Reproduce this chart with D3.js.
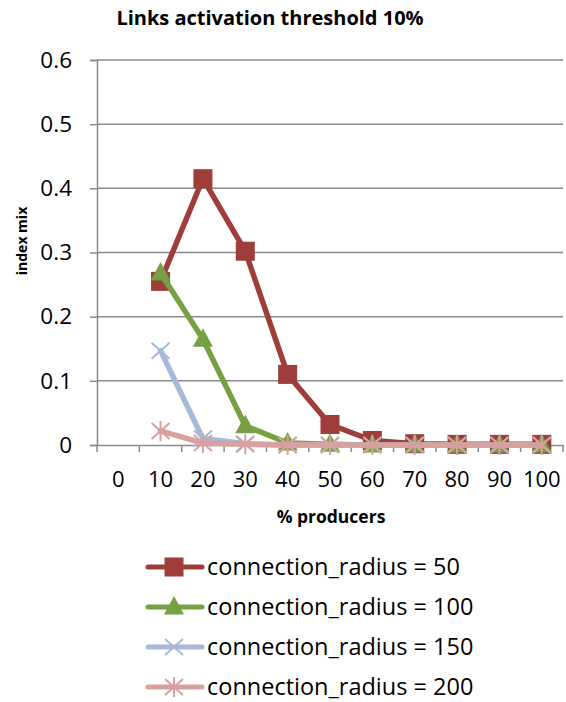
<!DOCTYPE html>
<html>
<head>
<meta charset="utf-8">
<script src="https://cdn.jsdelivr.net/npm/d3@7"></script>
<style>
  body { margin: 0; background: #fff; }
  svg { display: block; font-family: "Open Sans", "Noto Sans", sans-serif; }
</style>
</head>
<body>
<svg id="chart" width="566" height="702"></svg>
<script>
const title = "Links activation threshold 10%";
const xTitle = "% producers";
const yTitle = "index mix";
const categories = ["0", "10", "20", "30", "40", "50", "60", "70", "80", "90", "100"];
const yTicks = [0, 0.1, 0.2, 0.3, 0.4, 0.5, 0.6];
const seriesNames = ["connection_radius = 50", "connection_radius = 100", "connection_radius = 150", "connection_radius = 200"];
const r50  = [null, 0.255, 0.415, 0.302, 0.110, 0.032, 0.007, 0.002, 0.001, 0.001, 0.001];
const r100 = [null, 0.268, 0.165, 0.030, 0.003, 0.001, 0.000, 0.000, 0.000, 0.000, 0.000];
const r150 = [null, 0.147, 0.010, 0.002, 0.000, 0.000, 0.000, 0.000, 0.000, 0.000, 0.000];
const r200 = [null, 0.022, 0.003, 0.001, 0.000, 0.000, 0.000, 0.000, 0.000, 0.000, 0.000];
const seriesValues = [r50, r100, r150, r200];
const colors = ["#9F3D3A", "#77A043", "#A6B9DA", "#D8A1A0"];
const markers = ["square", "triangle", "x", "asterisk"];

const svg = d3.select("#chart");
const margin = {left: 97, right: 3, top: 60, bottom: 257};
const W = 566, H = 702;
const x = d3.scaleBand().domain(categories).range([margin.left, W - margin.right]);
const y = d3.scaleLinear().domain([0, 0.6]).range([H - margin.bottom, margin.top]);
const gridColor = "#8a8a8a";

// gridlines
svg.append("g").selectAll("line").data(yTicks.filter(d => d > 0)).join("line")
  .attr("x1", margin.left).attr("x2", W - margin.right)
  .attr("y1", d => y(d)).attr("y2", d => y(d))
  .attr("stroke", gridColor).attr("stroke-width", 1.5);

// y axis
const yAxis = svg.append("g").attr("transform", `translate(${margin.left},0)`)
  .call(d3.axisLeft(y).tickValues(yTicks).tickFormat(d => d === 0 ? "0" : d3.format(".1f")(d)).tickSize(7).tickPadding(18));
yAxis.select(".domain").attr("stroke", gridColor).attr("stroke-width", 1.5);
yAxis.selectAll(".tick line").attr("stroke", gridColor).attr("stroke-width", 1.5);
yAxis.selectAll("text").attr("font-size", 22.5).attr("fill", "#000").style("font-family", "'Open Sans', sans-serif");

// x axis
const xAxis = svg.append("g").attr("transform", `translate(0,${y(0)})`)
  .call(d3.axisBottom(x).tickSize(0));
xAxis.select(".domain").attr("stroke", gridColor).attr("stroke-width", 1.5);
xAxis.selectAll("text").attr("font-size", 22).attr("fill", "#000")
  .attr("y", 42).attr("dy", 0).style("font-family", "'Open Sans', sans-serif");
// category boundary ticks
const bounds = categories.map(c => x(c)).concat([x(categories[categories.length - 1]) + x.bandwidth()]);
svg.append("g").selectAll("line").data(bounds).join("line")
  .attr("x1", d => d).attr("x2", d => d)
  .attr("y1", y(0)).attr("y2", y(0) + 7)
  .attr("stroke", gridColor).attr("stroke-width", 1.5);

// title & axis titles
svg.append("text").attr("x", 270).attr("y", 25).attr("text-anchor", "middle")
  .attr("font-size", 20).attr("font-weight", "bold").text(title);
svg.append("text").attr("x", 331).attr("y", 523).attr("text-anchor", "middle")
  .attr("font-size", 17.5).attr("font-weight", "bold").text(xTitle);
svg.append("text").attr("transform", `translate(27,241) rotate(-90)`).attr("text-anchor", "middle")
  .attr("font-size", 14).attr("font-weight", "bold").text(yTitle);

function drawMarker(g, type, color, cx, cy) {
  if (type === "square") {
    g.append("rect").attr("x", cx - 9.5).attr("y", cy - 9.5).attr("width", 19).attr("height", 19).attr("fill", color);
  } else if (type === "triangle") {
    g.append("path").attr("d", `M${cx},${cy - 11}L${cx + 10},${cy + 7.5}L${cx - 10},${cy + 7.5}Z`).attr("fill", color);
  } else if (type === "x") {
    g.append("path").attr("d", `M${cx - 9},${cy - 8}L${cx + 9},${cy + 8}M${cx - 9},${cy + 8}L${cx + 9},${cy - 8}`)
      .attr("stroke", color).attr("stroke-width", 2).attr("fill", "none");
  } else {
    g.append("path").attr("d", `M${cx - 9},${cy - 8}L${cx + 9},${cy + 8}M${cx - 9},${cy + 8}L${cx + 9},${cy - 8}M${cx},${cy - 10}L${cx},${cy + 10}`)
      .attr("stroke", color).attr("stroke-width", 2).attr("fill", "none");
  }
}

const line = d3.line().defined(d => d.v !== null)
  .x(d => x(d.c) + x.bandwidth() / 2).y(d => y(d.v));

seriesValues.forEach((vals, i) => {
  const pts = categories.map((c, j) => ({c, v: vals[j]}));
  const g = svg.append("g");
  g.append("path").datum(pts).attr("d", line).attr("fill", "none")
    .attr("stroke", colors[i]).attr("stroke-width", 5.5).attr("stroke-linejoin", "round").attr("stroke-linecap", "round");
  pts.filter(d => d.v !== null).forEach(d => drawMarker(g, markers[i], colors[i], x(d.c) + x.bandwidth() / 2, y(d.v)));
});

// legend
const legY = [567, 607, 647, 687];
seriesNames.forEach((name, i) => {
  const g = svg.append("g");
  g.append("line").attr("x1", 148).attr("x2", 202).attr("y1", legY[i]).attr("y2", legY[i])
    .attr("stroke", colors[i]).attr("stroke-width", 5).attr("stroke-linecap", "round");
  drawMarker(g, markers[i], colors[i], 174, legY[i]);
  g.append("text").attr("x", 207).attr("y", legY[i] + 8).attr("font-size", 23.5).attr("fill", "#000").text(name);
});
</script>
</body>
</html>
